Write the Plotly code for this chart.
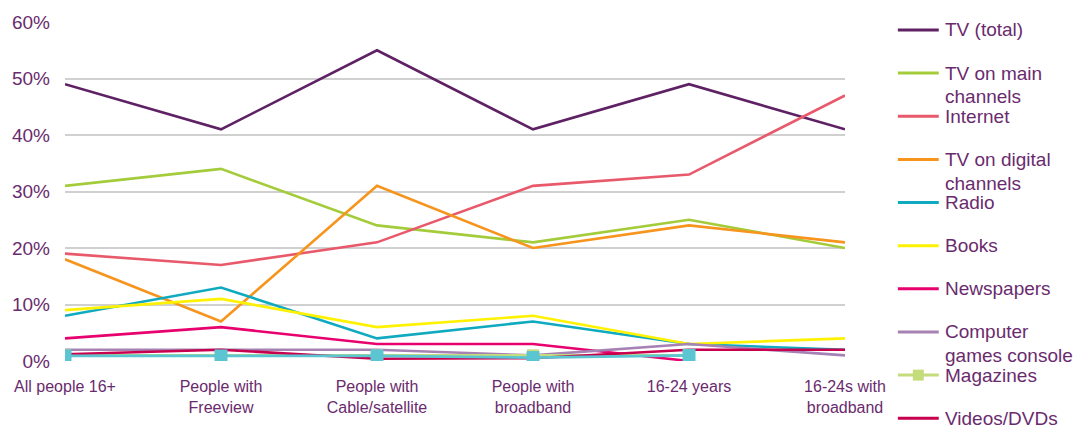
import plotly.graph_objects as go

# Categories and share of people naming each medium (%)
categories = [
    "All people 16+",
    "People with<br>Freeview",
    "People with<br>Cable/satellite",
    "People with<br>broadband",
    "16-24 years",
    "16-24s with<br>broadband",
]

tv_total = [49, 41, 55, 41, 49, 41]
tv_main = [31, 34, 24, 21, 25, 20]
internet = [19, 17, 21, 31, 33, 47]
tv_digital = [18, 7, 31, 20, 24, 21]
radio = [8, 13, 4, 7, 3, 2]
books = [9, 11, 6, 8, 3, 4]
newspapers = [4, 6, 3, 3, 0, None]
computer_games = [2, 2, 2, 1, 3, 1]
magazines = [1, 1, 1, 1, 1, None]
videos_dvds = [1.2, 2, 0.4, 0.5, 2, 2]
other = [0.9, 0.9, 0.9, 0.6, 1, None]

y_ticks = [0, 10, 20, 30, 40, 50, 60]
y_tick_text = ["0%", "10%", "20%", "30%", "40%", "50%", "60%"]

series = [
    # name lines, values, colour, marker
    (["TV (total)"], tv_total, "#5e2163", False),
    (["TV on main", "channels"], tv_main, "#a4cc3a", False),
    (["Internet"], internet, "#e8596b", False),
    (["TV on digital", "channels"], tv_digital, "#f7941d", False),
    (["Radio"], radio, "#0faabf", False),
    (["Books"], books, "#fff200", False),
    (["Newspapers"], newspapers, "#e8006f", False),
    (["Computer", "games console"], computer_games, "#a681b4", False),
    (["Magazines"], magazines, "#c4dc7c", True),
    (["Videos/DVDs"], videos_dvds, "#c8004e", False),
]

TEXT = "#6a2b6e"
W, H = 1082, 430
L, R, T, B = 63, 237, 20, 69

xs = list(range(len(categories)))

fig = go.Figure()
for name_lines, vals, colour, has_marker in series:
    fig.add_trace(go.Scatter(
        x=xs, y=vals, name=" ".join(name_lines),
        mode="lines+markers" if has_marker else "lines",
        line=dict(color=colour, width=2.6),
        marker=dict(symbol="square", size=12, color=colour),
        showlegend=False,
    ))

fig.add_trace(go.Scatter(
    x=xs, y=other, name="Other", mode="lines+markers",
    line=dict(color="#5bc5d2", width=2.6),
    marker=dict(symbol="square", size=13, color="#5bc5d2"),
    showlegend=False,
))


def px_x(p):
    return (p - L) / (W - L - R)


def px_y(p):
    return 1 - (p - T) / (H - T - B)


# Legend drawn at fixed spacing on the right
shapes = []
annotations = []
leg_top = 28
leg_step = 43.4
line_h = 24
for i, (name_lines, _, colour, has_marker) in enumerate(series):
    yc = leg_top + i * leg_step
    shapes.append(dict(
        type="line", xref="paper", yref="paper",
        x0=px_x(898), x1=px_x(939), y0=px_y(yc), y1=px_y(yc),
        line=dict(color=colour, width=3),
    ))
    if has_marker:
        shapes.append(dict(
            type="rect", xref="paper", yref="paper",
            x0=px_x(913), x1=px_x(924), y0=px_y(yc - 5.5), y1=px_y(yc + 5.5),
            line=dict(width=0), fillcolor=colour,
        ))
    for j, txt in enumerate(name_lines):
        annotations.append(dict(
            text=txt, xref="paper", yref="paper",
            x=px_x(943), y=px_y(yc + j * line_h),
            xanchor="left", yanchor="middle", showarrow=False,
            font=dict(size=19, color=TEXT), align="left",
        ))

fig.update_layout(
    width=W, height=H,
    margin=dict(l=L, r=R, t=T, b=B, pad=0),
    paper_bgcolor="white", plot_bgcolor="white",
    font=dict(family="Liberation Sans, Arial, sans-serif", color=TEXT),
    shapes=shapes, annotations=annotations,
    showlegend=False,
)
fig.update_xaxes(
    range=[0, 5], tickvals=xs, ticktext=categories,
    showgrid=False, zeroline=False, showline=False,
    tickfont=dict(size=16, color=TEXT), ticks="", ticklabelstandoff=14,
)
fig.update_yaxes(
    range=[0, 60], tickvals=y_ticks, ticktext=y_tick_text,
    showgrid=True, gridcolor="#d0d0d0", gridwidth=2.2,
    zeroline=False, showline=False, ticks="",
    tickfont=dict(size=19, color=TEXT), ticklabelstandoff=14,
)

fig.write_html("out.html")
